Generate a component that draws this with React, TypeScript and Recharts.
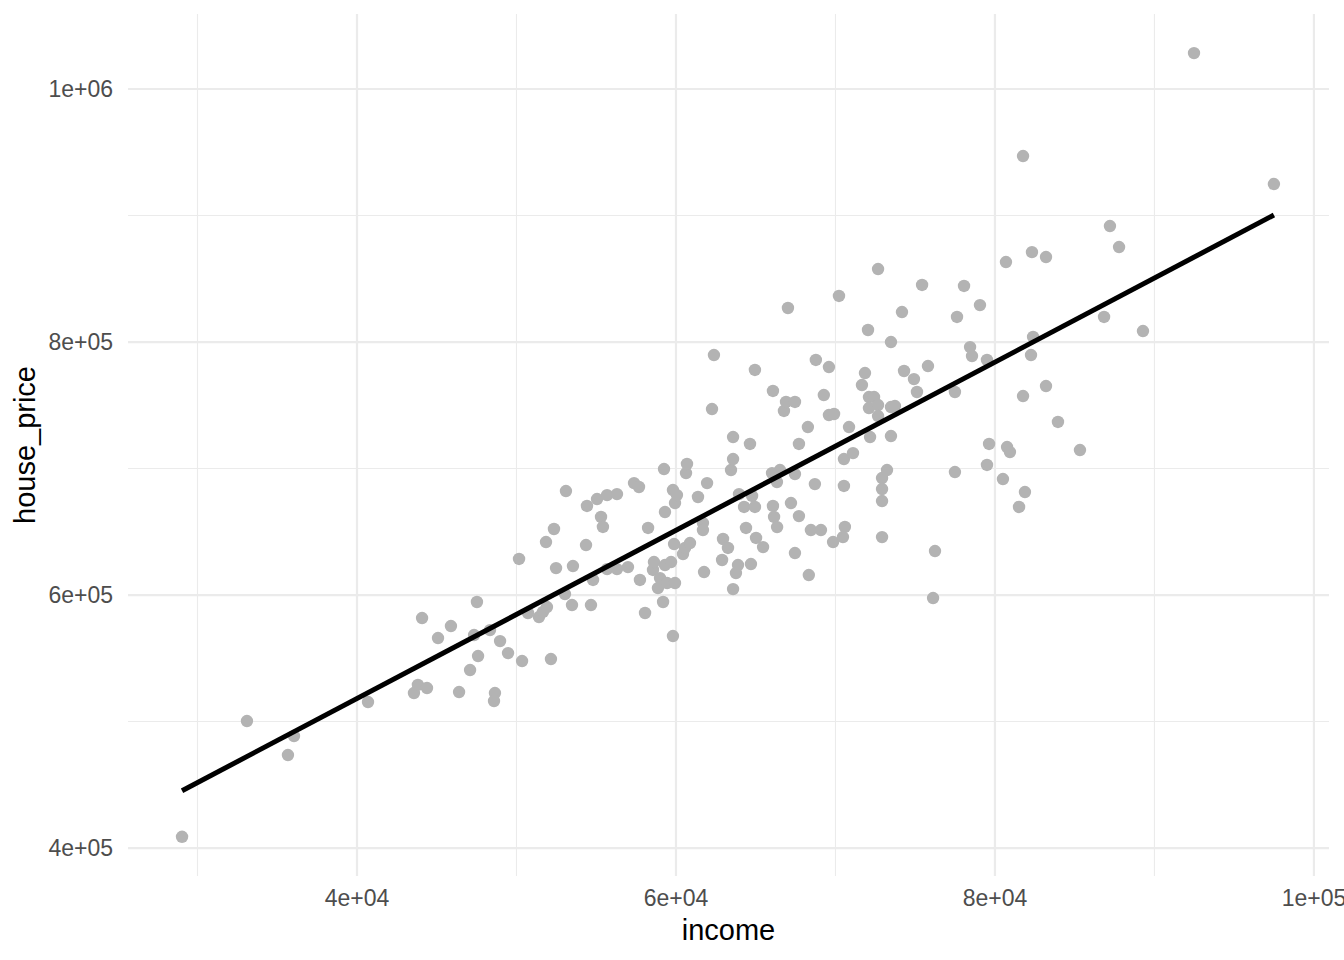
import React from 'react';
import { ScatterChart, Scatter, XAxis, YAxis, CartesianGrid, Label } from 'recharts';

const income = [
  29030, 33100, 35670, 36050, 40690, 43570, 43820, 44390, 44080, 45080,
  45890, 46400, 47090, 47340, 47520, 47590, 48340, 48650, 48590, 48970,
  49470, 50160, 50350, 50720, 51410, 51660, 51910, 52160, 51850, 52350,
  52480, 53100, 53040, 53540, 53480, 54360, 54420, 54670, 54800, 55050,
  55300, 55420, 55680, 55680, 56300, 56300, 56990, 57370, 57680, 57740,
  58060, 58250, 58560, 58620, 58870, 59000, 59250, 59190, 59310, 59310,
  59440, 59690, 59810, 59880, 59810, 59940, 59940, 60060, 60440, 60570,
  60880, 60630, 60690, 61380, 61690, 61690, 61760, 61950, 62380, 62260,
  62950, 62890, 63260, 63450, 63580, 63580, 63580, 63760, 63890, 63950,
  64270, 64390, 64640, 64700, 64770, 64950, 64950, 65020, 65460, 66020,
  66080, 66080, 66150, 66340, 66520, 66330, 66770, 66900, 67020, 67210,
  67460, 67460, 67460, 67710, 67710, 68270, 68330, 68460, 68710, 68770,
  69090, 69270, 69590, 69590, 69910, 69850, 70220, 70470, 70590, 70530,
  70530, 70850, 71100, 71660, 71850, 72040, 72100, 72100, 72170, 72420,
  72670, 72670, 72670, 72920, 72920, 72920, 72920, 73230, 73480, 73480,
  73480, 73730, 74170, 74300, 74920, 75110, 75430, 75800, 76240, 76120,
  77490, 77620, 77490, 78060, 78440, 78560, 79060, 79500, 79500, 79630,
  80500, 80690, 80760, 80940, 81510, 81760, 81760, 81880, 82260, 82320,
  82390, 83200, 83200, 83950, 85330, 86840, 87210, 87780, 89280, 92480,
  97490,
];

const housePrice = [
  408900, 500400, 473500, 488500, 515400, 522500, 528900, 526500, 581800, 566000,
  575500, 523300, 540700, 568400, 594500, 551800, 572300, 522500, 516200, 563600,
  554100, 628500, 547800, 585800, 582600, 586600, 590500, 549400, 641900, 652200,
  621300, 682200, 600800, 622900, 592100, 639500, 670400, 592100, 611900, 675900,
  661700, 653800, 679000, 620500, 679800, 620500, 622100, 688500, 685400, 611900,
  585800, 653000, 619800, 626100, 605500, 613400, 699600, 594500, 665600, 623700,
  609500, 626100, 683000, 640300, 567600, 672700, 609500, 679000, 632400, 637200,
  641100, 696400, 703600, 677500, 656900, 651400, 618200, 688500, 789700, 747000,
  644300, 627700, 637200, 698800, 724900, 707500, 604700, 617400, 623700, 679800,
  669600, 653000, 719400, 624500, 678300, 669600, 777900, 645100, 637900, 696400,
  761300, 670400, 661700, 653700, 698800, 689300, 745500, 752600, 826900, 672700,
  695600, 752600, 633200, 662400, 719400, 732800, 615800, 651400, 687700, 785800,
  651400, 758100, 742300, 780200, 743100, 641900, 836400, 645800, 653800, 686200,
  707500, 732800, 712200, 766000, 775500, 809500, 756500, 747800, 724900, 756500,
  750200, 857700, 741500, 692500, 674300, 645800, 683800, 698800, 725700, 800000,
  748600, 749400, 823700, 777100, 770700, 760500, 845100, 781000, 634800, 597600,
  697200, 819800, 760500, 844300, 796000, 788900, 829200, 785800, 702800, 719400,
  691700, 863200, 717000, 713000, 669600, 947000, 757300, 681400, 789700, 871100,
  804000, 867200, 765200, 736800, 714600, 819800, 891700, 875100, 808700, 1028400,
  924900,
];

const fitIncome = [29030, 97490];
const fitPrice = [445300, 900400];

const xTicks = [40000, 60000, 80000, 100000];
const xTickLabels = ['4e+04', '6e+04', '8e+04', '1e+05'];
const xMinorTicks = [30000, 50000, 70000, 90000];
const yTicks = [400000, 600000, 800000, 1000000];
const yTickLabels = ['4e+05', '6e+05', '8e+05', '1e+06'];
const yMinorTicks = [500000, 700000, 900000];

const xDomain = [25642, 100944];
const yDomain = [377900, 1059300];

const points = income.map((x, i) => ({ x, y: housePrice[i] }));
const fit = fitIncome.map((x, i) => ({ x, y: fitPrice[i] }));

const FONT = '"Liberation Sans", Arial, Helvetica, sans-serif';
const tickStyle = { fill: '#4D4D4D', fontSize: 23, fontFamily: FONT };

const XTitle = ({ viewBox }: any) => (
  <text x={viewBox.x + viewBox.width / 2} y={viewBox.y + 64} textAnchor="middle"
    fontSize={29} fontFamily={FONT} fill="#000">income</text>
);

const YTitle = ({ viewBox }: any) => (
  <text x={0} y={0} textAnchor="middle" fontSize={29} fontFamily={FONT} fill="#000"
    transform={`translate(${viewBox.x + 35}, ${viewBox.y + viewBox.height / 2}) rotate(-90)`}>
    house_price
  </text>
);

const Dot = (props: any) => <circle cx={props.cx} cy={props.cy} r={6.2} fill="#B3B3B3" />;

export default function App() {
  return (
    <div style={{ position: 'absolute', left: 0, top: 0, width: 1344, height: 960, background: '#fff' }}>
      <ScatterChart width={1344} height={960} margin={{ top: 14, right: 15, bottom: 0, left: 0 }}>
        <XAxis xAxisId="minor" type="number" dataKey="x" domain={xDomain} ticks={xMinorTicks}
          allowDataOverflow hide />
        <YAxis yAxisId="minor" type="number" dataKey="y" domain={yDomain} ticks={yMinorTicks}
          allowDataOverflow hide />
        <CartesianGrid xAxisId="minor" yAxisId="minor" stroke="#EBEBEB" strokeWidth={1.1} syncWithTicks />
        <CartesianGrid stroke="#EBEBEB" strokeWidth={2.2} syncWithTicks />
        <XAxis type="number" dataKey="x" domain={xDomain} ticks={xTicks} allowDataOverflow
          height={84} axisLine={false} tickLine={false} tickSize={0} tickMargin={14} interval={0}
          tick={tickStyle} tickFormatter={(v: number) => xTickLabels[xTicks.indexOf(v)]}>
          <Label content={XTitle} />
        </XAxis>
        <YAxis type="number" dataKey="y" domain={yDomain} ticks={yTicks} allowDataOverflow
          width={128} axisLine={false} tickLine={false} tickSize={0} tickMargin={15} interval={0}
          tick={tickStyle} tickFormatter={(v: number) => yTickLabels[yTicks.indexOf(v)]}>
          <Label content={YTitle} />
        </YAxis>
        <Scatter data={points} shape={Dot} isAnimationActive={false} />
        <Scatter data={fit} line={{ stroke: '#000', strokeWidth: 5 }} shape={() => <g />}
          isAnimationActive={false} />
      </ScatterChart>
    </div>
  );
}
